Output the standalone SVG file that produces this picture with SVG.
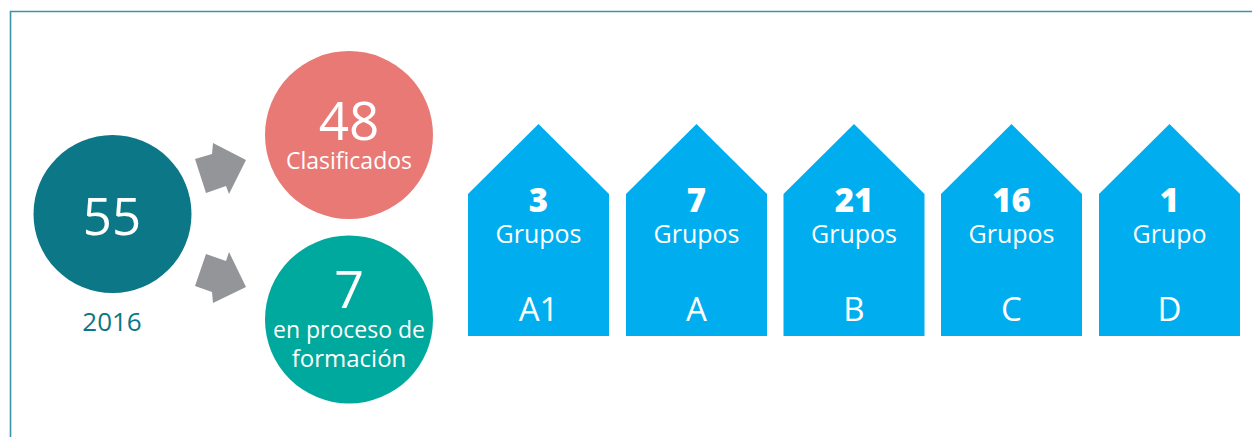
<svg xmlns="http://www.w3.org/2000/svg" width="1252" height="437" viewBox="0 0 1252 437">
<style>
text{font-family:"Open Sans","Noto Sans",sans-serif;fill:#fff;text-anchor:middle}
.house{fill:#00aeef}
.arrow{fill:#939598}
.num{font-weight:800;font-size:33px}
.lbl{font-size:25px}
.cat{font-size:33px}
</style>
<rect width="1252" height="437" fill="#fff"/>
<path d="M10.5,437 V11.5 H1252" fill="none" stroke="#3b95a6" stroke-width="1.6"/>
<g id="n55">
<circle cx="112.5" cy="214" r="79" fill="#0b7787"/>
<text x="112" y="235" font-size="51">55</text>
<text x="112" y="331" font-size="26" style="fill:#0b7787">2016</text>
</g>
<g id="n48">
<circle cx="349" cy="135" r="84" fill="#e87975"/>
<text x="349" y="140" font-size="53">48</text>
<text x="349" y="169" font-size="23">Clasificados</text>
</g>
<g id="n7">
<circle cx="349" cy="319.5" r="84" fill="#00a99d"/>
<text x="349" y="308" font-size="52">7</text>
<text x="349" y="338" font-size="23">en proceso de</text>
<text x="349" y="367" font-size="24">formación</text>
</g>
<g id="connectors">
<polygon class="arrow" points="195,159 212,154 213,143 246,160 229,194 226,186 206,193"/>
<polygon class="arrow" points="195,286 206,254 226,261 229,252 246,287 213,303 212,292"/>
</g>
<g id="hA1">
<polygon class="house" points="468,194 538.5,124 609,194 609,336 468,336"/>
<text class="num" x="538.5" y="212">3</text>
<text class="lbl" x="538.5" y="243">Grupos</text>
<text class="cat" x="538.5" y="321">A1</text>
</g>
<g id="hA">
<polygon class="house" points="626,194 696.5,124 767,194 767,336 626,336"/>
<text class="num" x="696.5" y="212">7</text>
<text class="lbl" x="696.5" y="243">Grupos</text>
<text class="cat" x="696.5" y="321">A</text>
</g>
<g id="hB">
<polygon class="house" points="783.5,194 854,124 924.5,194 924.5,336 783.5,336"/>
<text class="num" x="854" y="212">21</text>
<text class="lbl" x="854" y="243">Grupos</text>
<text class="cat" x="854" y="321">B</text>
</g>
<g id="hC">
<polygon class="house" points="941,194 1011.5,124 1082,194 1082,336 941,336"/>
<text class="num" x="1011.5" y="212">16</text>
<text class="lbl" x="1011.5" y="243">Grupos</text>
<text class="cat" x="1011.5" y="321">C</text>
</g>
<g id="hD">
<polygon class="house" points="1099,194 1169.5,124 1240,194 1240,336 1099,336"/>
<text class="num" x="1169.5" y="212">1</text>
<text class="lbl" x="1169.5" y="243">Grupo</text>
<text class="cat" x="1169.5" y="321">D</text>
</g>
</svg>
